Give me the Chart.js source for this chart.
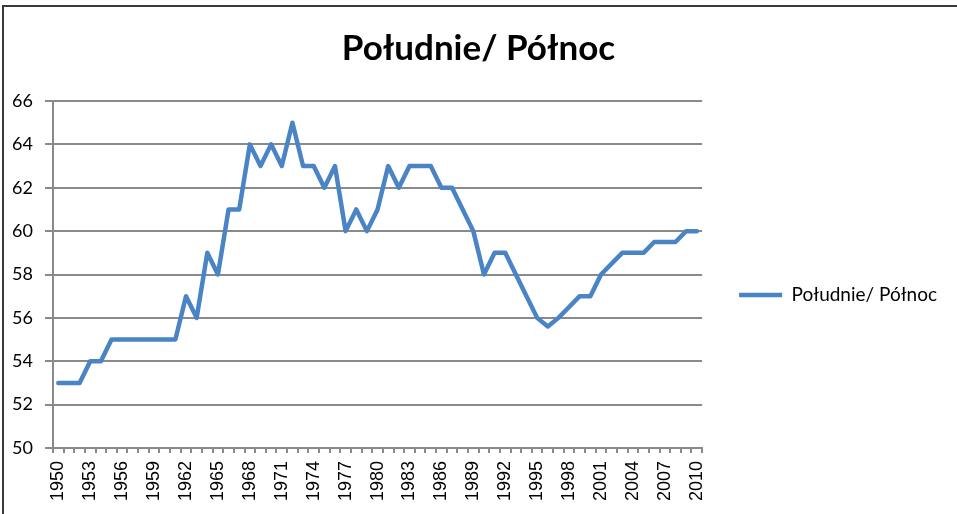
<!DOCTYPE html>
<html lang="pl">
<head>
    <meta charset="UTF-8">
    <script src="https://cdn.jsdelivr.net/npm/chart.js"></script>
    <title>Południe/ Północ</title>
    <style>
        body {
            margin: 0;
            padding: 0;
            background: #fff;
            overflow: hidden;
        }
        .wrap {
            position: relative;
            width: 957px;
            height: 514px;
            overflow: hidden;
        }
        .frame {
            position: absolute;
            left: 2px;
            top: 5px;
            right: 0;
            bottom: 0;
            border-left: 2px solid #3a3a3a;
            border-top: 2px solid #3a3a3a;
            pointer-events: none;
        }
    </style>
</head>
<body>
    <div class="wrap">
        <canvas id="chart" width="957" height="514"></canvas>
        <div class="frame"></div>
    </div>

    <script>
        // data
        const years = [
            '1950', '1951', '1952', '1953', '1954', '1955', '1956', '1957', '1958', '1959',
            '1960', '1961', '1962', '1963', '1964', '1965', '1966', '1967', '1968', '1969',
            '1970', '1971', '1972', '1973', '1974', '1975', '1976', '1977', '1978', '1979',
            '1980', '1981', '1982', '1983', '1984', '1985', '1986', '1987', '1988', '1989',
            '1990', '1991', '1992', '1993', '1994', '1995', '1996', '1997', '1998', '1999',
            '2000', '2001', '2002', '2003', '2004', '2005', '2006', '2007', '2008', '2009',
            '2010'
        ];
        const ratio = [
            53, 53, 53, 54, 54, 55, 55, 55, 55, 55,
            55, 55, 57, 56, 59, 58, 61, 61, 64, 63,
            64, 63, 65, 63, 63, 62, 63, 60, 61, 60,
            61, 63, 62, 63, 63, 63, 62, 62, 61, 60,
            58, 59, 59, 58, 57, 56, 55.6, 56, 56.5, 57,
            57, 58, 58.5, 59, 59, 59, 59.5, 59.5, 59.5, 60,
            60
        ];
        const seriesName = 'Południe/ Północ';
        const yMin = 50;
        const yMax = 66;
        const yStep = 2;

        const gridGray = '#8a8a8a';

        // empty box on the far right so the legend keeps a margin
        // but the title still centres on the whole canvas
        const rightSpacer = {
            id: 'rightSpacer',
            beforeInit(chart) {
                Chart.layouts.addBox(chart, {
                    position: 'right',
                    weight: 1001,
                    fullSize: true,
                    options: {},
                    width: 0,
                    height: 0,
                    isHorizontal() { return false; },
                    update(maxWidth, maxHeight) {
                        this.width = 10;
                        this.height = maxHeight;
                    },
                    draw() {}
                });
            }
        };

        new Chart(document.getElementById('chart'), {
            type: 'line',
            data: {
                labels: years,
                datasets: [{
                    label: seriesName,
                    data: ratio,
                    borderColor: '#4a84c4',
                    backgroundColor: '#4a84c4',
                    borderWidth: 4.5,
                    borderJoinStyle: 'round',
                    borderCapStyle: 'round',
                    pointRadius: 0,
                    tension: 0,
                    fill: false
                }]
            },
            plugins: [rightSpacer],
            options: {
                responsive: false,
                animation: false,
                layout: {
                    padding: { left: 0, right: 0, top: 0, bottom: 0 }
                },
                plugins: {
                    title: {
                        display: true,
                        text: seriesName,
                        color: '#000',
                        font: { family: 'Lato', size: 35, weight: 'bold', lineHeight: 1.2 },
                        padding: { top: 28, bottom: 31 }
                    },
                    legend: {
                        position: 'right',
                        maxWidth: 320,
                        // empty legend title only pushes the entry down
                        title: {
                            display: true,
                            text: ' ',
                            font: { size: 10, lineHeight: 1 },
                            padding: { top: 66, bottom: 0 }
                        },
                        labels: {
                            usePointStyle: true,
                            pointStyle: 'line',
                            pointStyleWidth: 43,
                            color: '#000',
                            font: { family: 'Lato', size: 19 },
                            padding: 37
                        }
                    },
                    tooltip: { enabled: false }
                },
                scales: {
                    x: {
                        offset: true,
                        afterFit: function(scale) { scale.height = 66; },
                        grid: {
                            offset: true,
                            drawOnChartArea: false,
                            drawTicks: true,
                            tickLength: 5,
                            color: gridGray,
                            lineWidth: 2
                        },
                        border: { color: gridGray, width: 2 },
                        ticks: {
                            autoSkip: false,
                            minRotation: 90,
                            maxRotation: 90,
                            padding: 8,
                            color: '#000',
                            font: { family: 'Liberation Sans', size: 18 },
                            callback: function(value, index) {
                                return index % 3 === 0 ? this.getLabelForValue(value) : '';
                            }
                        }
                    },
                    y: {
                        min: yMin,
                        max: yMax,
                        afterFit: function(scale) { scale.width = 53; },
                        grid: {
                            color: gridGray,
                            lineWidth: 2,
                            tickLength: 8
                        },
                        border: { color: gridGray, width: 2 },
                        ticks: {
                            stepSize: yStep,
                            padding: 12,
                            color: '#000',
                            font: { family: 'Lato', size: 18 }
                        }
                    }
                }
            }
        });
    </script>
</body>
</html>
